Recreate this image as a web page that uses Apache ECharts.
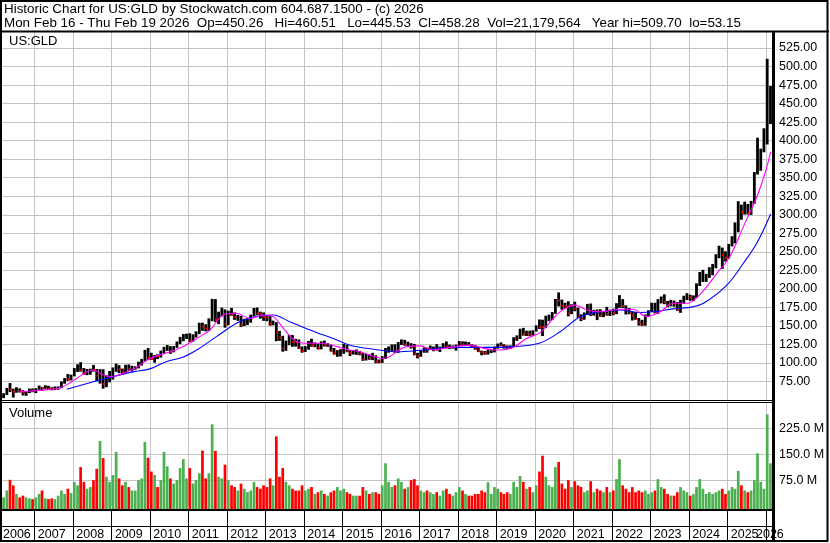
<!DOCTYPE html>
<html>
<head>
<meta charset="utf-8">
<script src="https://cdn.jsdelivr.net/npm/echarts@6/dist/echarts.min.js"></script>
<style>
html,body{margin:0;padding:0;background:#fff;}
#c{width:830px;height:543px;}
</style>
</head>
<body>
<div id="c"></div>
<script>
// ---------- data (monthly bars, first month = March 2006) ----------
const firstYear = 2006, firstMonthIndex = 2; // March 2006
const opens = [
 55.5,57.9,65.1,64.0,61.0,62.9,62.0,59.7,60.2,64.3,
 62.9,64.9,66.4,66.0,67.4,65.4,64.7,66.3,66.9,73.9,78.6,78.0,
 83.0,91.6,96.6,90.4,85.6,87.8,91.4,90.8,82.9,85.5,71.7,80.9,
 86.5,91.3,93.6,91.3,87.4,96.9,91.6,93.8,93.9,98.8,102.6,116.6,
 107.3,105.3,109.4,109.0,115.4,118.9,121.7,115.4,121.7,127.9,132.6,135.6,
 138.7,129.9,137.7,140.2,153.4,149.5,146.4,158.7,177.7,158.2,167.6,170.6,
 152.0,169.1,165.5,162.1,162.3,151.5,155.2,156.3,164.3,172.0,166.7,166.6,
 162.0,161.0,152.8,154.5,142.4,134.6,119.1,127.9,135.1,128.2,127.8,120.6,
 116.1,119.1,127.9,123.6,124.3,119.6,128.0,123.5,123.6,116.9,112.7,113.6,
 113.6,123.5,116.0,113.6,113.9,114.1,112.4,104.9,108.2,106.9,109.2,101.9,
 101.5,106.9,118.6,118.8,123.6,116.1,126.5,129.1,125.2,125.6,121.7,112.0,
 109.6,115.7,119.7,118.7,121.0,121.5,118.0,121.3,125.6,122.0,121.2,121.4,
 123.7,128.1,125.2,125.8,124.0,123.0,118.7,115.8,114.4,113.0,115.1,115.5,
 121.3,125.0,124.0,122.0,121.0,122.6,133.2,133.3,143.8,138.9,142.7,138.3,
 143.0,149.3,148.4,148.3,159.6,163.8,167.4,185.4,184.2,177.1,176.3,166.7,
 178.4,173.4,162.4,159.9,166.1,178.4,165.6,170.0,169.5,164.0,166.7,166.2,
 171.0,167.4,178.4,180.6,176.9,171.1,168.5,164.0,159.2,154.7,151.9,164.4,
 169.6,179.6,168.8,183.2,185.6,182.3,178.3,183.4,180.1,171.5,183.2,189.2,
 191.2,188.5,189.3,206.3,211.4,215.3,216.8,226.6,231.3,243.1,253.7,245.6,
 242.1,258.6,263.3,288.1,303.8,303.6,304.8,302.9,316.0,355.5,368.1,386.4,
 396.3,444.0
];
const highs = [
 58.5,65.5,72.2,64.5,66.5,65.0,62.5,60.8,64.7,64.9,
 65.2,68.8,67.0,69.2,68.5,66.6,67.6,67.6,74.3,78.9,84.3,83.5,
 92.4,97.5,100.4,92.5,91.2,91.6,96.7,91.2,91.0,90.8,82.5,88.5,
 93.2,98.5,96.3,91.7,96.9,97.3,95.5,94.8,101.0,104.8,116.9,119.5,
 113.0,110.0,111.0,116.0,121.0,123.5,122.0,122.0,128.3,134.5,138.3,138.9,
 139.4,138.0,142.0,153.6,153.6,151.5,159.5,185.8,185.5,168.5,174.0,171.5,
 169.8,173.6,167.5,164.0,163.0,159.0,159.0,164.5,173.5,174.1,168.5,167.5,
 163.5,162.5,156.5,154.5,142.5,136.0,129.5,137.0,137.0,131.8,131.0,121.5,
 122.0,129.0,132.0,127.0,125.5,128.5,129.5,126.0,124.0,119.5,116.7,118.0,
 125.2,123.5,116.5,116.8,117.5,115.5,112.8,111.5,110.8,113.0,109.5,104.0,
 108.5,119.5,121.6,124.3,124.5,127.5,131.1,130.5,128.0,126.0,125.0,113.0,
 116.5,120.3,120.0,122.9,121.5,124.6,121.5,126.0,128.3,124.0,123.0,124.0,
 128.9,128.4,128.2,127.5,124.5,123.5,119.5,116.0,115.5,117.5,116.5,121.5,
 125.5,127.0,124.5,123.0,123.0,134.0,136.5,145.5,146.7,142.9,142.9,143.5,
 150.0,158.0,157.7,163.0,164.5,168.0,185.7,194.5,184.8,180.5,182.5,178.5,
 182.0,174.0,165.0,167.5,179.0,179.5,171.0,171.5,171.8,168.7,175.0,171.2,
 172.5,180.0,190.9,185.5,177.0,173.5,168.8,168.0,160.0,157.5,164.8,170.5,
 180.5,180.5,185.5,189.0,191.9,183.0,184.5,183.5,181.5,184.5,190.0,193.5,
 191.5,190.5,206.8,222.0,225.0,219.5,228.5,232.8,246.0,257.5,255.0,250.0,
 260.0,270.4,289.0,317.6,313.0,317.0,314.0,318.0,357.0,403.3,388.5,416.0,
 509.7,473.0
];
const lows = [
 53.2,57.5,61.5,54.0,60.5,60.8,56.8,56.3,60.0,61.2,
 60.0,64.5,63.2,65.8,64.8,63.8,64.0,64.6,66.8,72.6,76.5,77.0,
 82.6,88.5,89.0,84.9,84.2,84.8,89.0,76.2,72.8,66.0,68.0,74.5,
 78.2,88.7,86.8,84.6,87.1,90.0,89.2,91.4,93.3,97.2,102.4,104.5,
 105.0,101.0,106.0,108.0,113.5,117.0,113.0,115.0,121.0,126.0,130.0,133.0,
 128.9,129.5,135.0,139.5,144.0,143.4,144.0,157.0,156.0,153.0,163.5,148.3,
 151.5,164.3,158.9,157.5,149.1,150.5,151.8,155.0,163.5,165.0,160.5,157.5,
 157.0,151.0,151.5,130.0,130.5,115.9,117.0,124.6,122.5,122.8,119.5,114.5,
 115.5,118.5,122.5,122.0,119.0,119.0,123.0,122.5,116.0,112.0,109.0,109.5,
 113.0,115.2,110.0,112.0,111.6,111.0,103.5,104.0,105.0,104.5,100.4,100.2,
 100.8,106.0,114.5,116.5,114.5,114.5,125.0,124.0,123.0,120.0,111.0,106.8,
 109.0,114.5,114.5,118.5,116.5,117.5,115.5,120.5,121.5,119.5,120.0,117.4,
 123.5,123.3,123.5,123.7,121.0,118.5,115.5,111.1,111.8,112.0,114.0,115.0,
 120.0,123.5,120.0,119.5,119.5,122.0,130.5,133.0,137.5,137.0,137.0,137.5,
 143.0,146.5,137.0,148.0,157.0,158.5,167.0,177.0,172.5,174.5,163.5,166.5,
 170.5,161.5,157.1,159.0,165.5,164.0,164.5,158.5,163.0,162.5,164.5,164.0,
 165.0,166.5,175.0,175.0,166.0,166.5,158.0,159.0,151.2,150.6,151.0,163.5,
 169.5,167.5,167.0,181.0,180.0,176.0,177.0,176.5,171.0,168.3,180.5,185.5,
 184.5,184.0,188.5,204.5,210.0,210.0,215.5,219.0,228.5,242.0,227.5,237.5,
 241.5,258.0,262.0,277.0,294.0,301.0,301.0,300.5,315.5,355.0,360.0,385.0,
 395.5,423.0
];
const closes = [
 57.9,65.1,64.0,61.0,62.9,62.0,59.7,60.2,64.3,62.9,
 64.9,66.4,66.0,67.4,65.4,64.7,66.3,66.9,73.9,78.6,78.0,83.0,
 91.6,96.6,90.4,85.6,87.8,91.4,90.8,82.9,85.5,71.7,80.9,86.5,
 91.3,93.6,91.3,87.4,96.9,91.6,93.8,93.9,98.8,102.6,116.6,107.3,
 105.3,109.4,109.0,115.4,118.9,121.7,115.4,121.7,127.9,132.6,135.6,138.7,
 129.9,137.7,140.2,153.4,149.5,146.4,158.7,177.7,158.2,167.6,170.6,152.0,
 169.1,165.5,162.1,162.3,151.5,155.2,156.3,164.3,172.0,166.7,166.6,162.0,
 161.0,152.8,154.5,142.4,134.6,119.1,127.9,135.1,128.2,127.8,120.6,116.1,
 119.1,127.9,123.6,124.3,119.6,128.0,123.5,123.6,116.9,112.7,113.6,113.6,
 123.5,116.0,113.6,113.9,114.1,112.4,104.9,108.2,106.9,109.2,101.9,101.5,
 106.9,118.6,118.8,123.6,116.1,126.5,129.1,125.2,125.6,121.7,112.0,109.6,
 115.7,119.7,118.7,121.0,121.5,118.0,121.3,125.6,122.0,121.2,121.4,123.7,
 128.1,125.2,125.8,124.0,123.0,118.7,115.8,114.4,113.0,115.1,115.5,121.3,
 125.0,124.0,122.0,121.0,122.6,133.2,133.3,143.8,138.9,142.7,138.3,143.0,
 149.3,148.4,148.3,159.6,163.8,167.4,185.4,184.2,177.1,176.3,166.7,178.4,
 173.4,162.4,159.9,166.1,178.4,165.6,170.0,169.5,164.0,166.7,166.2,171.0,
 167.4,178.4,180.6,176.9,171.1,168.5,164.0,159.2,154.7,151.9,164.4,169.6,
 179.6,168.8,183.2,185.6,182.3,178.3,183.4,180.1,171.5,183.2,189.2,191.2,
 188.5,189.3,206.3,211.4,215.3,216.8,226.6,231.3,243.1,253.7,245.6,242.1,
 258.6,263.3,288.1,303.8,303.6,304.8,302.9,316.0,355.5,368.1,386.4,396.3,
 444.0,458.3
];
// volume, millions of shares
const volumes = [
 25,45,76,60,35,25,30,25,22,20,
 25,35,45,22,20,22,20,30,45,35,50,38,
 70,60,113,70,50,55,75,108,189,139,85,70,
 90,157,80,60,70,55,45,45,75,80,186,140,
 100,90,55,75,157,115,80,65,75,110,136,80,
 110,65,75,95,161,80,95,237,160,85,80,120,
 75,60,55,45,65,50,40,45,70,55,50,60,
 55,80,60,202,85,110,70,60,50,45,45,60,
 45,50,55,35,40,45,35,30,40,45,55,45,
 50,40,35,30,30,30,55,45,35,40,40,35,
 60,124,70,55,60,80,70,50,55,75,78,60,
 45,40,45,40,35,40,30,45,50,35,30,40,
 55,45,35,30,30,35,35,45,40,69,35,55,
 50,40,35,40,35,70,55,87,70,50,55,40,
 60,100,146,85,60,55,113,128,65,50,75,55,
 72,60,55,40,45,72,40,50,45,40,55,40,
 45,78,136,60,50,40,55,40,45,40,45,35,
 40,45,78,55,50,35,30,30,40,55,45,40,
 30,35,55,78,50,35,40,35,40,45,50,35,
 45,55,50,102,60,45,40,45,75,153,70,50,
 266,124
];
// moving averages
const fastMaDates = ['2006-08-15','2007-01-15','2007-06-01','2007-09-01','2007-12-15','2008-02-05','2008-07-10','2008-10-15','2008-12-20','2009-07-25','2010-01-01','2010-07-10','2010-11-25','2011-04-20','2011-07-25','2011-11-30','2012-04-05','2012-08-07','2012-12-15','2013-03-18','2013-06-20','2013-10-27','2014-03-01','2014-07-05','2014-11-10','2015-03-15','2015-06-18','2016-01-25','2016-09-01','2017-01-08','2017-05-15','2017-10-20','2018-04-28','2018-09-01','2019-01-05','2019-06-10','2019-10-15','2020-02-20','2020-08-28','2021-01-18','2021-05-08','2021-09-12','2022-03-20','2022-07-25','2022-11-28','2023-04-05','2023-08-07','2023-12-15','2024-04-20','2024-09-25','2025-01-25','2025-06-03','2025-10-08','2025-12-25','2026-02-17'];
const fastMaValues = [61,62.5,64.5,66,74,79,90.5,84,81.5,91.5,106,115,123,135.5,144.5,164.7,167,160,164.7,162.5,146.8,128.7,126.5,126.5,122,117.5,115,106,122,123,117.5,121,124,119.8,117.5,121,133,141,169,178,171.5,169,172.4,172.4,162.5,169,180.5,180.5,193,221,243.4,284,324,356,385];
const slowMaDates = ['2007-11-05','2008-09-15','2009-07-25','2010-01-01','2010-06-10','2010-11-15','2011-04-20','2011-09-25','2012-06-05','2013-03-18','2013-08-20','2014-03-01','2014-11-10','2015-03-15','2015-10-25','2016-06-01','2017-02-10','2017-12-20','2018-11-01','2019-06-10','2020-02-20','2020-08-28','2021-03-08','2021-09-12','2022-03-20','2022-09-28','2023-01-30','2023-08-07','2024-01-10','2024-05-20','2024-12-28','2025-06-03','2025-10-08','2026-02-17'];
const slowMaValues = [64.5,77,88,92,102,108,120,135.5,158,164.7,155.7,144.5,131,124,118.5,115,117.5,121,121,122,127,142,162.5,169,171.5,168,169,173,175,180.5,205,234.5,261.5,301];
const yearLabels = ['2006','2007','2008','2009','2010','2011','2012','2013','2014','2015','2016','2017','2018','2019','2020','2021','2022','2023','2024','2025','2026'];
const titleLine = 'Historic Chart for US:GLD by Stockwatch.com 604.687.1500 - (c) 2026';
const quoteLine = 'Mon Feb 16 - Thu Feb 19 2026  Op=450.26   Hi=460.51   Lo=445.53  Cl=458.28  Vol=21,179,564   Year hi=509.70  lo=53.15';
const symbolLabel = 'US:GLD';
const volumeLabel = 'Volume';

// ---------- build ----------
function monthTime(i){ const m = firstMonthIndex + i; return Date.UTC(firstYear + Math.floor(m/12), m % 12, 15); }
const dayStr = s => { const p = s.split('-'); return Date.UTC(+p[0], +p[1]-1, +p[2]); };
const priceData = closes.map((c,i) => [monthTime(i), opens[i], highs[i], lows[i], c]);
const volumeData = volumes.map((v,i) => [monthTime(i), v, closes[i] >= opens[i] ? 1 : 0]);
const fastMa = fastMaDates.map((d,i) => [dayStr(d), fastMaValues[i]]);
const slowMa = slowMaDates.map((d,i) => [dayStr(d), slowMaValues[i]]);
const yearData = yearLabels.map(y => [Date.UTC(+y,0,1), 0.5]);

const tMin = Date.UTC(2006,1,28), tMax = Date.UTC(2026,2,11);
const FONT = '"Liberation Sans", Arial, sans-serif';

function gridLineRenderer(color){
  return function(params, api){
    const cs = params.coordSys;
    const xr = api.coord([api.value(0), api.value(1)])[0];
    if (xr < cs.x || xr > cs.x + cs.width) return null;
    const x = Math.round(xr) + 0.5;
    return {type:'line', shape:{x1:x, y1:cs.y, x2:x, y2:cs.y+cs.height}, style:{stroke:color, lineWidth:1}};
  };
}
function stripRenderer(params, api){
  const cs = params.coordSys;
  const xr = api.coord([api.value(0), api.value(1)])[0];
  const children = [];
  if (xr >= cs.x) {
    const x = Math.round(xr) + 0.5;
    children.push({type:'line', shape:{x1:x, y1:cs.y, x2:x, y2:cs.y+cs.height}, style:{stroke:'#000', lineWidth:1}});
  }
  const tx = Math.min(Math.max(xr + 3.5, 3), cs.x + cs.width - 17);
  children.push({type:'text', x:tx, y:cs.y + 24.5,
    style:{text: yearLabels[params.dataIndex], fill:'#000', font:'12.5px ' + FONT, align:'left', verticalAlign:'middle'}});
  return {type:'group', children};
}
function priceRenderer(params, api){
  const t = api.value(0);
  const pH = api.coord([t, api.value(2)]);
  const pL = api.coord([t, api.value(3)]);
  const pC = api.coord([t, api.value(4)]);
  const children = [{type:'line', shape:{x1:pH[0], y1:pH[1]-0.5, x2:pL[0], y2:pL[1]+0.5}, style:{stroke:'#000', lineWidth:2.8}}];
  if (api.value(4) < api.value(1)) {
    children.push({type:'rect', shape:{x:pC[0]-0.2, y:pC[1]-1, width:2, height:2}, style:{fill:'#ff0000'}});
  }
  return {type:'group', children};
}
function volumeRenderer(params, api){
  const cs = params.coordSys;
  const p = api.coord([api.value(0), api.value(1)]);
  const bottom = cs.y + cs.height + 3;
  return {type:'rect', shape:{x:p[0]-1.35, y:p[1], width:2.7, height:bottom - p[1]},
    style:{fill: api.value(2) > 0 ? '#4cb050' : '#ff0000'}};
}

const chart = echarts.init(document.getElementById('c'), null, {renderer:'canvas'});
chart.setOption({
  animation: false,
  backgroundColor: '#fff',
  grid: [
    {left:2, top:29.5, width:771, height:370.5, outerBoundsMode:'none'},
    {left:2, top:402.6, width:771, height:103.4, outerBoundsMode:'none'},
    {left:2, top:510, width:771, height:31, outerBoundsMode:'none'}
  ],
  xAxis: [0,1,2].map(i => ({type:'time', gridIndex:i, min:tMin, max:tMax, show:false})),
  yAxis: [
    {type:'value', gridIndex:0, position:'right', min:50, max:550, interval:25,
     axisLine:{show:false}, axisTick:{show:false},
     axisLabel:{margin:6, color:'#000', fontSize:12.5, fontFamily:FONT,
       formatter: v => (v < 75 || v > 525) ? '' : v.toFixed(2)},
     splitLine:{show:true, showMinLine:false, showMaxLine:false, lineStyle:{color:'#c4c4c4', width:1}}},
    {type:'value', gridIndex:1, position:'right', min:0, max:300, interval:75,
     axisLine:{show:false}, axisTick:{show:false},
     axisLabel:{margin:6, color:'#000', fontSize:12.5, fontFamily:FONT,
       formatter: v => (v <= 0 || v >= 300) ? '' : v.toFixed(1) + ' M'},
     splitLine:{show:true, showMinLine:false, showMaxLine:false, lineStyle:{color:'#c4c4c4', width:1}}},
    {type:'value', gridIndex:2, min:0, max:1, show:false}
  ],
  series: [
    {type:'custom', name:'priceYears', xAxisIndex:0, yAxisIndex:0, data:yearData, renderItem:gridLineRenderer('#c4c4c4'), z:1, silent:true},
    {type:'custom', name:'volYears', xAxisIndex:1, yAxisIndex:1, data:yearData, renderItem:gridLineRenderer('#c4c4c4'), z:1, silent:true},
    {type:'custom', name:'years', xAxisIndex:2, yAxisIndex:2, data:yearData, renderItem:stripRenderer, z:5, clip:false, silent:true},
    {type:'custom', name:'GLD', xAxisIndex:0, yAxisIndex:0, data:priceData, renderItem:priceRenderer, z:3, silent:true,
     encode:{x:0, y:[1,2,3,4]}},
    {type:'line', name:'slow MA', xAxisIndex:0, yAxisIndex:0, data:slowMa, showSymbol:false, smooth:0.35,
     lineStyle:{color:'#0000ff', width:1.1}, z:4, silent:true},
    {type:'line', name:'fast MA', xAxisIndex:0, yAxisIndex:0, data:fastMa, showSymbol:false, smooth:0.35,
     lineStyle:{color:'#ff00ff', width:1.1}, z:4, silent:true},
    {type:'custom', name:'Volume', xAxisIndex:1, yAxisIndex:1, data:volumeData, renderItem:volumeRenderer, z:3, silent:true,
     encode:{x:0, y:1}}
  ],
  graphic: [
    {type:'rect', z:100, shape:{x:0, y:0, width:829, height:31}, style:{fill:'#fff'}},
    {type:'text', z:101, x:4, y:9.8, style:{text:titleLine, fill:'#000', font:'13.4px ' + FONT, verticalAlign:'middle'}},
    {type:'text', z:101, x:4, y:23.4, style:{text:quoteLine, fill:'#000', font:'13.4px ' + FONT, verticalAlign:'middle'}},
    {type:'line', z:101, shape:{x1:0, y1:31.5, x2:829, y2:31.5}, style:{stroke:'#000', lineWidth:2}},
    {type:'text', z:101, x:9, y:41.5, style:{text:symbolLabel, fill:'#000', font:'13px ' + FONT, verticalAlign:'middle'}},
    {type:'text', z:101, x:9, y:413.5, style:{text:volumeLabel, fill:'#000', font:'13px ' + FONT, verticalAlign:'middle'}},
    {type:'line', z:101, shape:{x1:0, y1:400.5, x2:773, y2:400.5}, style:{stroke:'#000', lineWidth:1}},
    {type:'line', z:101, shape:{x1:0, y1:402.5, x2:773, y2:402.5}, style:{stroke:'#000', lineWidth:1}},
    {type:'line', z:101, shape:{x1:0, y1:510, x2:773, y2:510}, style:{stroke:'#000', lineWidth:2}},
    {type:'line', z:101, shape:{x1:0, y1:526.5, x2:773, y2:526.5}, style:{stroke:'#000', lineWidth:1}},
    {type:'line', z:101, shape:{x1:773.5, y1:31, x2:773.5, y2:541}, style:{stroke:'#000', lineWidth:3}},
    {type:'rect', z:102, shape:{x:1, y:1, width:826.5, height:540}, style:{fill:'transparent', stroke:'#000', lineWidth:2}}
  ]
});
</script>
</body>
</html>
